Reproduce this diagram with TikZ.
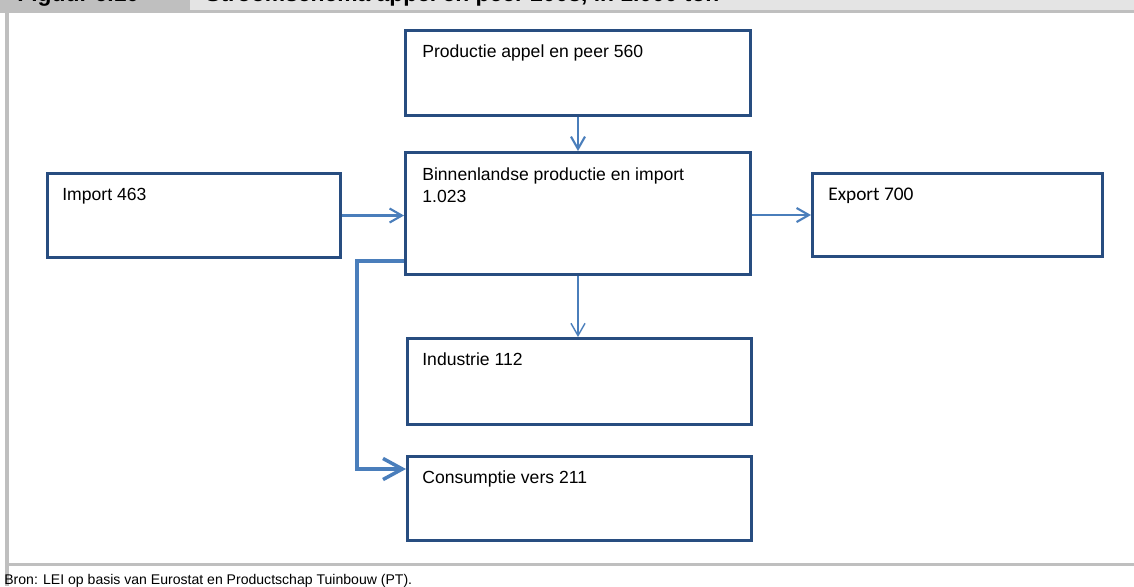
\documentclass[tikz,border=0pt]{standalone}
\usepackage{fontspec}
\setmainfont{Liberation Sans}
\newfontfamily\calfont{Carlito}
\usepackage{tikz}
\usetikzlibrary{arrows.meta}

\definecolor{blokblauw}{RGB}{40,77,128}
\definecolor{pijlblauw}{RGB}{74,126,187}
\definecolor{grijsdonker}{RGB}{191,191,191}
\definecolor{grijslicht}{RGB}{228,228,228}
\newlength{\pxl}
\setlength{\pxl}{0.02cm}

\tikzset{
  blok/.style={draw=blokblauw, line width=1.7pt, inner sep=0pt},
  tekst/.style={inner sep=0pt, font=\fontsize{10}{13}\selectfont},
  pijl/.style={draw=pijlblauw, line width=1.2pt, -{Straight Barb[length=7pt,width=8pt]}},
  kop/.style={inner sep=0pt, anchor=base west, font=\fontsize{13}{15}\selectfont\bfseries}
}

\begin{document}
\begin{tikzpicture}[x=0.02cm, y=-0.02cm]
          \useasboundingbox (0,0) rectangle (1134,586);
          \fill[white] (0,0) rectangle (1134,586);
          \fill[grijsdonker] (0,0) rectangle (190,10);
          \fill[grijslicht] (190,0) rectangle (1134,10);
          \fill[grijsdonker] (0,10) rectangle (1134,13);
          \fill[grijsdonker] (5,13) rectangle (9,586);
          \fill[grijsdonker] (5,563) rectangle (1134,566);
          \node[kop] (figuur) at (17,1.5) {Figuur 6.10};
          \node[kop] (titel) at (205,1.5) {Stroomschema appel en peer 2008, in 1.000 ton};
          \node[inner sep=0pt, anchor=base west, font=\fontsize{8}{10}\selectfont] (bron) at (4,584) {Bron: LEI op basis van Eurostat en Productschap Tuinbouw (PT).};

          \node[blok, minimum width=345\pxl, minimum height=85\pxl] (prod) at (578,73) {};
          \node[blok, minimum width=345\pxl, minimum height=122\pxl] (binn) at (578,213.5) {};
          \node[blok, minimum width=293\pxl, minimum height=84\pxl] (import) at (194,215.5) {};
          \node[blok, minimum width=290\pxl, minimum height=83\pxl] (export) at (957.5,215) {};
          \node[blok, minimum width=344\pxl, minimum height=86\pxl] (indus) at (579.5,381.5) {};
          \node[blok, minimum width=344\pxl, minimum height=84\pxl] (cons) at (579.5,498.5) {};

          \node[tekst, anchor=base west] (prodtekst) at ([shift={(18,28)}]prod.north west) {Productie appel en peer 560};
          \node[tekst, anchor=north west, align=left] (binntekst) at ([shift={(18,16)}]binn.north west) {Binnenlandse productie en import\\1.023};
          \node[tekst, anchor=base west] (importtekst) at ([shift={(16,28)}]import.north west) {Import 463};
          \node[tekst, anchor=base west, font=\calfont\fontsize{11}{13}\selectfont] (exporttekst) at ([shift={(17,28)}]export.north west) {Export 700};
          \node[tekst, anchor=base west] (industekst) at ([shift={(16,28)}]indus.north west) {Industrie 112};
          \node[tekst, anchor=base west] (constekst) at ([shift={(16,28)}]cons.north west) {Consumptie vers 211};

          \draw[pijl] (prod.south) -- (binn.north);
          \draw[pijl] (import.east) -- (import.east -| binn.west);
          \draw[pijl] (binn.east |- export.west) -- (export.west);
          \draw[pijl, line width=0.8pt] (binn.south) -- (binn.south |- indus.north);
          \coordinate (knik) at (357,261);
          \draw[pijl, line width=2pt, -{Straight Barb[length=11pt,width=12pt]}] (binn.west |- knik) -- (knik) |- ([yshift=-0.28cm]cons.north west);
\end{tikzpicture}
\end{document}
